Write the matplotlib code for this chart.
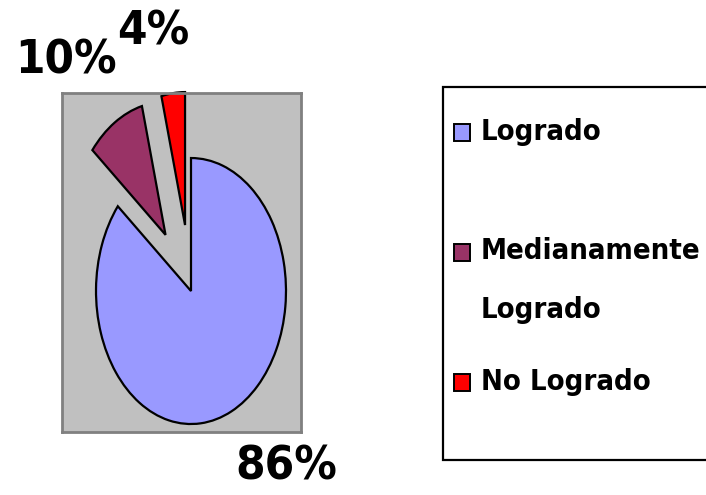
import matplotlib.pyplot as plt
from matplotlib.patches import Rectangle

labels = ["Logrado", "Medianamente\nLogrado", "No Logrado"]
values = [86, 10, 4]
colors = ["#9999FF", "#993366", "#FF0000"]
explode = [0, 0.5, 0.5]
pct_text = ["86%", "10%", "4%"]

W, H = 706, 495
fig = plt.figure(figsize=(W / 100, H / 100), dpi=100)
font = ["DejaVu Sans"]


def fx(px):
    return px / W


def fy(py):
    return 1 - py / H


# plot area (gray box), pixel bounds 62..301 x 93..432
ax = fig.add_axes([fx(62), fy(432), fx(301) - fx(62), (432 - 93) / H])
wedges, _ = ax.pie(
    values,
    colors=colors,
    explode=explode,
    startangle=90,
    counterclock=False,
    wedgeprops=dict(edgecolor="black", linewidth=1.6, clip_on=False),
)
ax.set_aspect("auto")
ax.set_xlim(-1.358, 1.158)
ax.set_ylim(-1.06, 1.489)
ax.set_facecolor("#C0C0C0")
ax.set_frame_on(True)
for s in ax.spines.values():
    s.set_color("#808080")
    s.set_linewidth(2)
ax.set_xticks([])
ax.set_yticks([])

# percentage labels
label_pos = [(286, 467), (66, 61), (153, 32)]
for t, (px, py) in zip(pct_text, label_pos):
    fig.text(fx(px), fy(py), t, ha="center", va="center", fontsize=34,
             fontweight="bold", family=font, fontstretch="condensed")

# legend
fig.patches.append(Rectangle((fx(443), fy(460)), fx(720) - fx(443), (460 - 87) / H,
                             transform=fig.transFigure, facecolor="white",
                             edgecolor="black", linewidth=1.6))
rows = [132, 252, 382]
for lab, c, py in zip(labels, colors, rows):
    fig.patches.append(Rectangle((fx(454), fy(py + 9)), 16 / W, 17 / H,
                                 transform=fig.transFigure, facecolor=c,
                                 edgecolor="black", linewidth=1.4))
    if "\n" in lab:
        fig.text(fx(481), fy(py - 15), lab, ha="left", va="top", fontsize=21,
                 fontweight="bold", family=font, fontstretch="condensed",
                 linespacing=2.4)
    else:
        fig.text(fx(481), fy(py), lab, ha="left", va="center", fontsize=21,
                 fontweight="bold", family=font, fontstretch="condensed")

fig.savefig("out.png", dpi=100)
